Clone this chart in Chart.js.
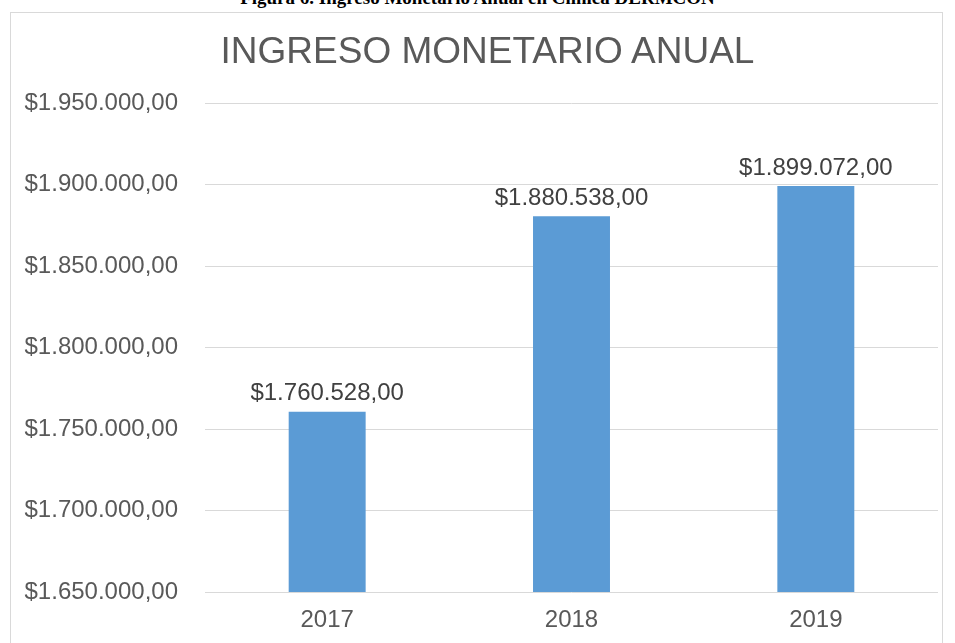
<!DOCTYPE html>
<html>
<head>
<meta charset="utf-8">
<script src="https://cdn.jsdelivr.net/npm/chart.js@4"></script>
<style>
  html, body { margin: 0; padding: 0; background: #fff; overflow: hidden; }
  body { width: 955px; height: 643px; position: relative; }
  #caption {
    position: absolute; left: 0; width: 955px; top: -13px;
    text-align: center; font: bold 19px "Liberation Serif", "Times New Roman", serif; color: #000;
  }
  #box {
    position: absolute; left: 10px; top: 12px; width: 933px; height: 640px;
    border: 1px solid #d9d9d9; box-sizing: border-box;
  }
  #myChart { position: absolute; left: 0; top: 0; }
  #title {
    position: absolute; left: 20px; width: 935px; top: 30px; line-height: 44px;
    text-align: center; font: 37px "Liberation Sans", Arial, sans-serif; color: #595959;
  }
</style>
</head>
<body>
<div id="caption">Figura 6. Ingreso Monetario Anual en Clínica DERMCON</div>
<div id="box"><canvas id="myChart" width="931" height="635"></canvas></div>
<div id="title">INGRESO MONETARIO ANUAL</div>
<script>
const years = ['2017', '2018', '2019'];
const ingresos = [1760528, 1880538, 1899072];
const yMin = 1650000;
const yMax = 1950000;
const yStep = 50000;

function money(v) {
    const parts = v.toFixed(2).split('.');
    const ent = parts[0].replace(/\B(?=(\d{3})+(?!\d))/g, '.');
    return '$' + ent + ',' + parts[1];
}

const ctx = document.getElementById('myChart');

// etiquetas encima de las barras
const barLabels = {
    id: 'barLabels',
    afterDatasetsDraw(chart) {
        const c = chart.ctx;
        const meta = chart.getDatasetMeta(0);
        c.save();
        c.font = '24px "Liberation Sans", Arial, sans-serif';
        c.fillStyle = '#404040';
        c.textAlign = 'center';
        c.textBaseline = 'bottom';
        meta.data.forEach((bar, i) => {
            c.fillText(money(ingresos[i]), bar.x, bar.y - 6);
        });
        c.restore();
    }
};

Chart.defaults.font.family = '"Liberation Sans", Arial, sans-serif';
Chart.defaults.color = '#595959';

new Chart(ctx, {
    type: 'bar',
    data: {
        labels: years,
        datasets: [{
            data: ingresos,
            backgroundColor: '#5b9bd5',
            categoryPercentage: 1,
            barPercentage: 0.315
        }]
    },
    options: {
        responsive: false,
        animation: false,
        layout: { padding: { left: 0, right: 4, top: 90, bottom: 0 } },
        plugins: {
            legend: { display: false },
            tooltip: { enabled: false },
            title: { display: false }
        },
        scales: {
            x: {
                grid: { display: false, drawTicks: false },
                border: { display: false },
                ticks: { font: { size: 24 }, padding: 13.6, color: '#595959' }
            },
            y: {
                min: yMin,
                max: yMax,
                afterFit(scale) { scale.width = 194; },
                grid: { color: '#d9d9d9', drawTicks: false },
                border: { display: false },
                ticks: {
                    stepSize: yStep,
                    padding: 27,
                    font: { size: 24 },
                    color: '#595959',
                    callback: v => money(v)
                }
            }
        }
    },
    plugins: [barLabels]
});
</script>
</body>
</html>
